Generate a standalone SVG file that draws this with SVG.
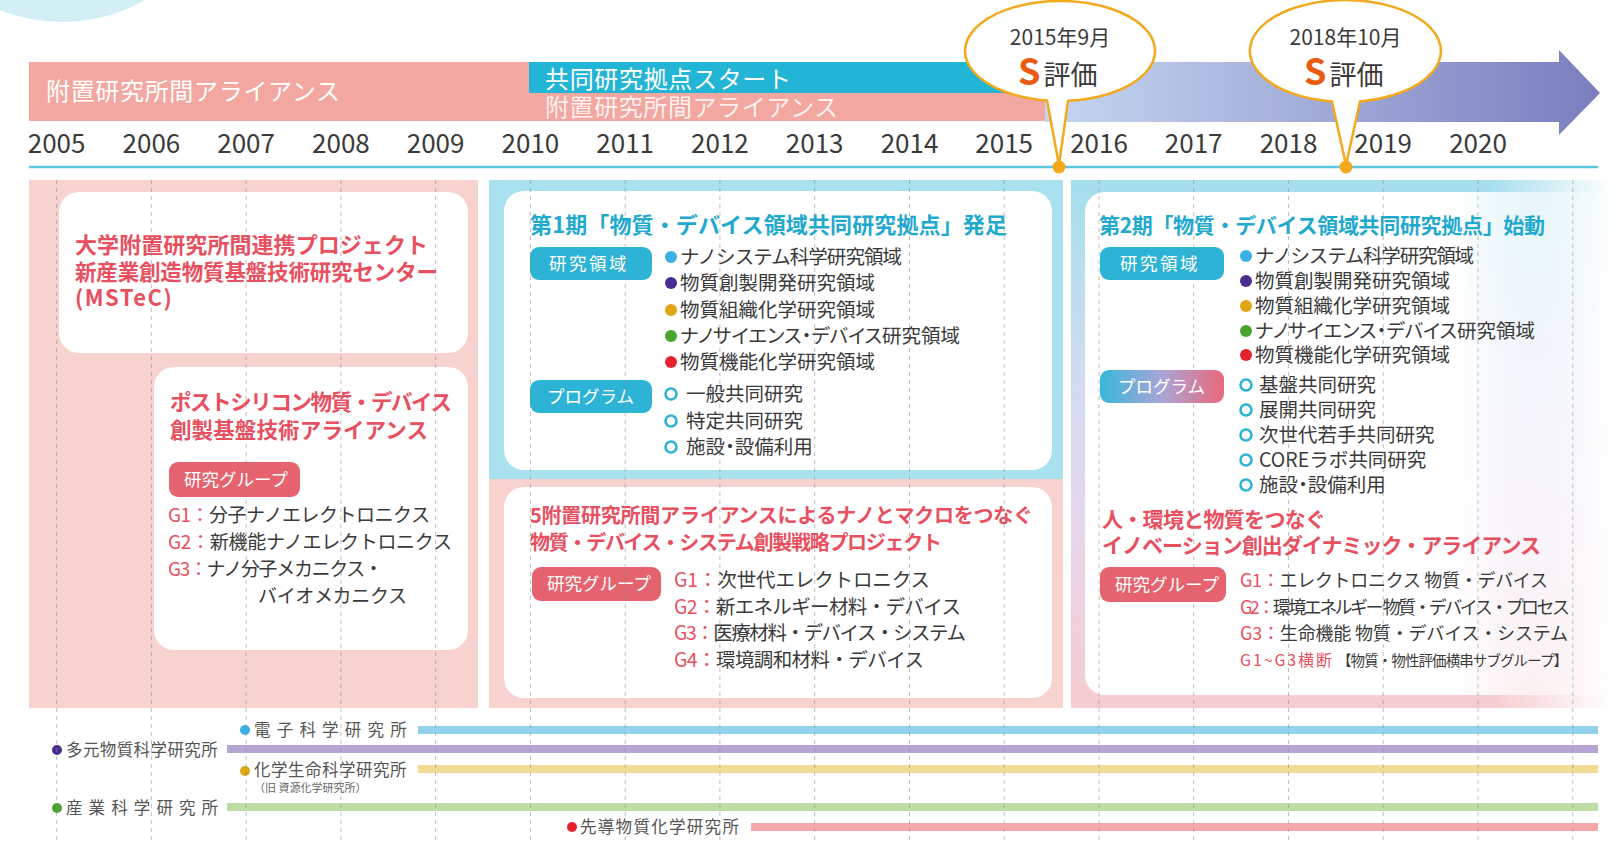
<svg xmlns="http://www.w3.org/2000/svg" width="1613" height="841" viewBox="0 0 1613 841">
<defs>
<style>
text{font-family:"Noto Sans CJK JP","Noto Sans",sans-serif;}
.yr{font-size:26px;fill:#3a3a3a;text-anchor:middle;}
.band{font-size:24px;fill:#fff;}
.ttlR{font-weight:700;fill:#e8505f;}
.ttlB{font-weight:700;fill:#1fa9cf;}
.itm{font-size:19.5px;fill:#3a3a3a;}
.palt{font-feature-settings:"palt" 1;}
.g{fill:#3a3a3a;}
.gr{fill:#e8505f;}
.tag{font-size:17.5px;fill:#fff;}
.inst{font-size:16.5px;fill:#555;}
.grid{stroke:#8c8c8c;stroke-width:1;stroke-dasharray:4 4;opacity:.55;}
.ring{fill:#fff;stroke:#2db3d5;stroke-width:2.6;}
.call{fill:#fff;stroke:#f2a91e;stroke-width:2.5;stroke-linejoin:round;}
.cdate{font-size:21px;fill:#3a3a3a;text-anchor:middle;}
.S{font-size:36px;font-weight:700;fill:#ea5b12;}
.hy{font-size:27px;fill:#3a3a3a;}
.bar{stroke-width:8;}
</style>
<linearGradient id="arrowG" x1="0" y1="0" x2="1" y2="0">
<stop offset="0" stop-color="#c6d6f1"/>
<stop offset="1" stop-color="#7a7ebf"/>
</linearGradient>
<linearGradient id="cPanel" x1="0" y1="0" x2="0" y2="1">
<stop offset="0" stop-color="#a5dfec"/>
<stop offset="0.35" stop-color="#cfdcf1"/>
<stop offset="0.65" stop-color="#e6d6ec"/>
<stop offset="1" stop-color="#f6ccd0"/>
</linearGradient>
<linearGradient id="fadeW" x1="0" y1="0" x2="1" y2="0">
<stop offset="0" stop-color="#fff" stop-opacity="0"/>
<stop offset="1" stop-color="#fff" stop-opacity="1"/>
</linearGradient>
<linearGradient id="c1Box" x1="1085" y1="0" x2="1613" y2="0" gradientUnits="userSpaceOnUse">
<stop offset="0" stop-color="#fff" stop-opacity="1"/>
<stop offset="0.7" stop-color="#fff" stop-opacity="1"/>
<stop offset="1" stop-color="#fff" stop-opacity="0.2"/>
</linearGradient>
<linearGradient id="progG" x1="0" y1="0" x2="1" y2="0">
<stop offset="0" stop-color="#36b7d9"/>
<stop offset="0.5" stop-color="#aaa5d6"/>
<stop offset="1" stop-color="#e8687a"/>
</linearGradient>
</defs>

<rect width="1613" height="841" fill="#fff"/>
<circle cx="62" cy="-146" r="168" fill="#d2eff6"/>

<g id="band-alliance">
<rect x="29" y="62" width="500" height="59" fill="#f2a7a0"/>
<text class="band" x="46" y="100" textLength="294">附置研究所間アライアンス</text>
</g>
<g id="band-joint">
<rect x="529" y="62" width="520" height="31" fill="#22b5d5"/>
<rect x="529" y="93" width="520" height="28" fill="#f2a7a0"/>
<text class="band" x="545" y="88" textLength="246">共同研究拠点スタート</text>
<text class="band" x="545" y="116" fill-opacity="0.85" textLength="293">附置研究所間アライアンス</text>
</g>
<g id="band-arrow">
<polygon points="1045,62 1559,62 1559,50 1600,93 1559,135 1559,122 1045,122" fill="url(#arrowG)"/>
</g>

<g id="years">
<text class="yr" x="56.6" y="153">2005</text>
<text class="yr" x="151.4" y="153">2006</text>
<text class="yr" x="246.1" y="153">2007</text>
<text class="yr" x="340.9" y="153">2008</text>
<text class="yr" x="435.6" y="153">2009</text>
<text class="yr" x="530.4" y="153">2010</text>
<text class="yr" x="625.2" y="153">2011</text>
<text class="yr" x="719.9" y="153">2012</text>
<text class="yr" x="814.7" y="153">2013</text>
<text class="yr" x="909.5" y="153">2014</text>
<text class="yr" x="1004.2" y="153">2015</text>
<text class="yr" x="1099" y="153">2016</text>
<text class="yr" x="1193.7" y="153">2017</text>
<text class="yr" x="1288.5" y="153">2018</text>
<text class="yr" x="1383.2" y="153">2019</text>
<text class="yr" x="1478" y="153">2020</text>
</g>

<g id="connectors">
<line x1="29" y1="167" x2="1598" y2="167" stroke="#5cc6df" stroke-width="2.5"/>
</g>

<g id="panel-A">
<rect x="29" y="180" width="449" height="528" fill="#f7d2cf"/>
</g>
<g id="node-mstec">
<rect x="59" y="192" width="409" height="161" rx="20" fill="#fff"/>
<text class="ttlR" style="font-size:22px" x="75" y="253" textLength="353">大学附置研究所間連携プロジェクト</text>
<text class="ttlR" style="font-size:21.5px" x="75" y="280" textLength="363">新産業創造物質基盤技術研究センター</text>
<text class="ttlR" style="font-size:22px" x="75" y="306" letter-spacing="1.5">(MSTeC)</text>
</g>
<g id="node-postsilicon">
<rect x="154" y="367" width="314" height="283" rx="20" fill="#fff"/>
<text class="ttlR" style="font-size:21.5px" x="170" y="410" textLength="282">ポストシリコン物質・デバイス</text>
<text class="ttlR" style="font-size:21.5px" x="170" y="438" textLength="258">創製基盤技術アライアンス</text>
<rect x="169" y="462" width="131" height="35" rx="9" fill="#e5636e"/>
<text class="tag" x="184" y="486">研究グループ</text>
<text class="g" style="font-size:19px" x="168" y="522" textLength="262"><tspan class="gr">G1：</tspan>分子ナノエレクトロニクス</text>
<text class="g" style="font-size:19px" x="168" y="549" textLength="284"><tspan class="gr">G2：</tspan>新機能ナノエレクトロニクス</text>
<text class="g" style="font-size:19px" x="168" y="576" textLength="215"><tspan class="gr">G3：</tspan>ナノ分子メカニクス・</text>
<text class="g" style="font-size:19px" x="258" y="603" textLength="149">バイオメカニクス</text>
</g>

<g id="panel-B">
<rect x="489" y="180" width="574" height="299" fill="#a9e1ee"/>
<rect x="489" y="479" width="574" height="229" fill="#f7d2cf"/>
</g>
<g id="node-phase1">
<rect x="504" y="191" width="548" height="279" rx="20" fill="#fff"/>
<text class="ttlB" style="font-size:22px" x="530" y="233" textLength="477">第1期「物質・デバイス領域共同研究拠点」発足</text>
<rect x="530" y="247" width="122" height="33" rx="9" fill="#2db3d5"/>
<text class="tag" x="549" y="270" letter-spacing="2.5">研究領域</text>
<circle cx="671" cy="257" r="6" fill="#3cb0e6"/>
<text class="itm" x="680" y="264" textLength="222">ナノシステム科学研究領域</text>
<circle cx="671" cy="283" r="6" fill="#4a2d90"/>
<text class="itm" x="680" y="290">物質創製開発研究領域</text>
<circle cx="671" cy="310" r="6" fill="#e0a512"/>
<text class="itm" x="680" y="317">物質組織化学研究領域</text>
<circle cx="671" cy="336" r="6" fill="#48a42c"/>
<text class="itm palt" x="680" y="343">ナノサイエンス・デバイス研究領域</text>
<circle cx="671" cy="362" r="6" fill="#e6222d"/>
<text class="itm" x="680" y="369">物質機能化学研究領域</text>
<rect x="530" y="380" width="122" height="33" rx="9" fill="#2db3d5"/>
<text class="tag" x="547" y="403">プログラム</text>
<circle class="ring" cx="671" cy="394" r="5.5"/>
<text class="itm" x="686" y="401">一般共同研究</text>
<circle class="ring" cx="671" cy="421" r="5.5"/>
<text class="itm" x="686" y="428">特定共同研究</text>
<circle class="ring" cx="671" cy="447" r="5.5"/>
<text class="itm palt" x="686" y="454">施設・設備利用</text>
</g>
<g id="node-5alliance">
<rect x="504" y="487" width="548" height="211" rx="20" fill="#fff"/>
<text class="ttlR" style="font-size:20px" x="530" y="523" textLength="503">5附置研究所間アライアンスによるナノとマクロをつなぐ</text>
<text class="ttlR" style="font-size:20px" x="530" y="550" textLength="412">物質・デバイス・システム創製戦略プロジェクト</text>
<rect x="532" y="567" width="129" height="34" rx="9" fill="#e5636e"/>
<text class="tag" x="547" y="590">研究グループ</text>
<text class="g" style="font-size:19.5px" x="674" y="587" textLength="256"><tspan class="gr">G1：</tspan>次世代エレクトロニクス</text>
<text class="g" style="font-size:19.5px" x="674" y="614" textLength="287"><tspan class="gr">G2：</tspan>新エネルギー材料・デバイス</text>
<text class="g" style="font-size:19.5px" x="674" y="640" textLength="292"><tspan class="gr">G3：</tspan>医療材料・デバイス・システム</text>
<text class="g" style="font-size:19.5px" x="674" y="667" textLength="250"><tspan class="gr">G4：</tspan>環境調和材料・デバイス</text>
</g>

<g id="panel-C">
<rect x="1071" y="180" width="542" height="528" fill="url(#cPanel)"/>
<rect x="1490" y="175" width="123" height="537" fill="url(#fadeW)"/>
</g>
<g id="node-phase2">
<rect x="1085" y="192" width="540" height="503" rx="20" fill="url(#c1Box)"/>
<text class="ttlB" style="font-size:21px" x="1099" y="233" textLength="446">第2期「物質・デバイス領域共同研究拠点」始動</text>
<rect x="1100" y="247" width="124" height="33" rx="9" fill="#2db3d5"/>
<text class="tag" x="1120" y="270" letter-spacing="2.5">研究領域</text>
<circle cx="1246" cy="256" r="6" fill="#3cb0e6"/>
<text class="itm" x="1255" y="263" textLength="219">ナノシステム科学研究領域</text>
<circle cx="1246" cy="281" r="6" fill="#4a2d90"/>
<text class="itm" x="1255" y="288">物質創製開発研究領域</text>
<circle cx="1246" cy="306" r="6" fill="#e0a512"/>
<text class="itm" x="1255" y="313">物質組織化学研究領域</text>
<circle cx="1246" cy="331" r="6" fill="#48a42c"/>
<text class="itm palt" x="1255" y="338">ナノサイエンス・デバイス研究領域</text>
<circle cx="1246" cy="355" r="6" fill="#e6222d"/>
<text class="itm" x="1255" y="362">物質機能化学研究領域</text>
<rect x="1100" y="370" width="124" height="33" rx="9" fill="url(#progG)"/>
<text class="tag" x="1118" y="393">プログラム</text>
<circle class="ring" cx="1246" cy="385" r="5.5"/>
<text class="itm" x="1259" y="392">基盤共同研究</text>
<circle class="ring" cx="1246" cy="410" r="5.5"/>
<text class="itm" x="1259" y="417">展開共同研究</text>
<circle class="ring" cx="1246" cy="435" r="5.5"/>
<text class="itm" x="1259" y="442">次世代若手共同研究</text>
<circle class="ring" cx="1246" cy="460" r="5.5"/>
<text class="itm" x="1259" y="467">COREラボ共同研究</text>
<circle class="ring" cx="1246" cy="485" r="5.5"/>
<text class="itm palt" x="1259" y="492">施設・設備利用</text>
<text class="ttlR" style="font-size:21px" x="1102" y="527" textLength="224">人・環境と物質をつなぐ</text>
<text class="ttlR" style="font-size:21px" x="1102" y="553" textLength="439">イノベーション創出ダイナミック・アライアンス</text>
<rect x="1100" y="567" width="126" height="35" rx="9" fill="#e5636e"/>
<text class="tag" x="1115" y="591">研究グループ</text>
<text class="g" style="font-size:18px" x="1240" y="587" textLength="308"><tspan class="gr">G1：</tspan>エレクトロニクス 物質・デバイス</text>
<text class="g" style="font-size:18px" x="1240" y="614" textLength="330"><tspan class="gr">G2：</tspan>環境エネルギー 物質・デバイス・プロセス</text>
<text class="g" style="font-size:18px" x="1240" y="640" textLength="328"><tspan class="gr">G3：</tspan>生命機能 物質・デバイス・システム</text>
<text class="gr" style="font-size:16px" x="1240" y="666" textLength="92">G1~G3横断</text>
<text class="g" style="font-size:14.5px" x="1337" y="666" textLength="231">【物質・物性評価横串サブグループ】</text>
</g>

<g id="inst-es">
<circle cx="245" cy="730" r="5" fill="#3aaee3"/>
<text class="inst" x="254" y="736" letter-spacing="6.2">電子科学研究所</text>
<line class="bar" x1="418" y1="730" x2="1598" y2="730" stroke="#93d2eb"/>
</g>
<g id="inst-tagen">
<circle cx="57" cy="750" r="5" fill="#4a2d90"/>
<text class="inst" x="66" y="756" letter-spacing="0.4">多元物質科学研究所</text>
<line class="bar" x1="227" y1="749" x2="1598" y2="749" stroke="#b4a5d4"/>
</g>
<g id="inst-chem">
<circle cx="245" cy="771" r="5" fill="#e0a512"/>
<text class="inst" x="254" y="776" letter-spacing="0.5">化学生命科学研究所</text>
<text style="font-size:11px" fill="#666" x="254" y="792">（旧 資源化学研究所）</text>
<line class="bar" x1="418" y1="769" x2="1598" y2="769" stroke="#f2dc95"/>
</g>
<g id="inst-sanken">
<circle cx="57" cy="808" r="5" fill="#48a42c"/>
<text class="inst" x="66" y="814" letter-spacing="6.1">産業科学研究所</text>
<line class="bar" x1="227" y1="807" x2="1598" y2="807" stroke="#bfdca4"/>
</g>
<g id="inst-sendo">
<circle cx="572" cy="827" r="5" fill="#e6222d"/>
<text class="inst" x="580" y="833" letter-spacing="1.3">先導物質化学研究所</text>
<line class="bar" x1="751" y1="827" x2="1598" y2="827" stroke="#f6a7aa"/>
</g>

<g id="grid">
<line class="grid" x1="56.6" y1="180" x2="56.6" y2="841"/>
<line class="grid" x1="151.4" y1="180" x2="151.4" y2="841"/>
<line class="grid" x1="246.1" y1="180" x2="246.1" y2="841"/>
<line class="grid" x1="340.9" y1="180" x2="340.9" y2="841"/>
<line class="grid" x1="435.6" y1="180" x2="435.6" y2="841"/>
<line class="grid" x1="530.4" y1="180" x2="530.4" y2="841"/>
<line class="grid" x1="625.2" y1="180" x2="625.2" y2="841"/>
<line class="grid" x1="719.9" y1="180" x2="719.9" y2="841"/>
<line class="grid" x1="814.7" y1="180" x2="814.7" y2="841"/>
<line class="grid" x1="909.5" y1="180" x2="909.5" y2="841"/>
<line class="grid" x1="1004.2" y1="180" x2="1004.2" y2="841"/>
<line class="grid" x1="1099" y1="180" x2="1099" y2="841"/>
<line class="grid" x1="1193.7" y1="180" x2="1193.7" y2="841"/>
<line class="grid" x1="1288.5" y1="180" x2="1288.5" y2="841"/>
<line class="grid" x1="1383.2" y1="180" x2="1383.2" y2="841"/>
<line class="grid" x1="1478" y1="180" x2="1478" y2="841"/>
<line class="grid" x1="1572.8" y1="180" x2="1572.8" y2="841"/>
</g>

<g id="callout-2015">
<path class="call" d="M1047 100.5 A95 50 0 1 1 1068 100.8 L1059 165 Z"/>
<circle cx="1059" cy="167" r="6.5" fill="#f2a91e"/>
<text class="cdate" x="1060" y="45">2015年9月</text>
<text x="1018" y="85"><tspan class="S">S</tspan><tspan class="hy" dx="3">評価</tspan></text>
</g>
<g id="callout-2018">
<path class="call" d="M1332 101.5 A95.5 51 0 1 1 1360 101.4 L1346 165 Z"/>
<circle cx="1346" cy="167" r="6.5" fill="#f2a91e"/>
<text class="cdate" x="1345.5" y="45">2018年10月</text>
<text x="1304" y="85"><tspan class="S">S</tspan><tspan class="hy" dx="3">評価</tspan></text>
</g>
</svg>
